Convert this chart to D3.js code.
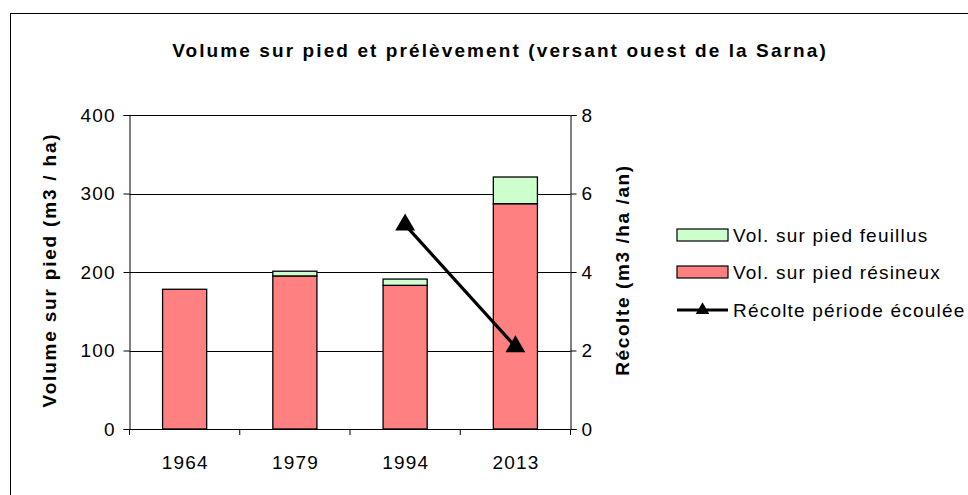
<!DOCTYPE html>
<html><head><meta charset="utf-8">
<script src="https://cdn.jsdelivr.net/npm/d3@7"></script>
<style>body{margin:0;background:#fff}svg{display:block;font-family:"Liberation Sans",Arial,sans-serif}</style>
</head><body>
<svg id="c" width="968" height="495"></svg>
<script>
const categories = ["1964", "1979", "1994", "2013"];
const resineux = [178, 195, 183, 287];
const feuillus = [0, 6, 8, 34];
const recolte = [null, null, 5.2, 2.1];
const leftTicks = [0, 100, 200, 300, 400];
const rightTicks = [0, 2, 4, 6, 8];
const seriesNames = ["Vol. sur pied feuillus", "Vol. sur pied résineux", "Récolte période écoulée"];

const FONT = '"Liberation Sans",Arial,sans-serif';
const FS = "19px", LS = "1.2px";

const svg = d3.select("#c");
svg.append("rect").attr("x", 0).attr("y", 0).attr("width", 968).attr("height", 495).attr("fill", "#fff");
svg.append("rect").attr("x", 10.5).attr("y", 13.5).attr("width", 1000).attr("height", 600)
  .attr("fill", "none").attr("stroke", "#000").attr("stroke-width", 1);

const L = 129.5, R = 570.5, T = 115, B = 429;
const x = d3.scaleBand().domain(categories).range([L, R]).paddingInner(0.6).paddingOuter(0.3);
const xb = d3.scaleBand().domain(categories).range([L, R]);
const y = d3.scaleLinear().domain([0, 400]).range([B, T]);
const y2 = d3.scaleLinear().domain([0, 8]).range([B, T]);

// gridlines
svg.append("g").selectAll("line").data(leftTicks.slice(1)).join("line")
  .attr("x1", L).attr("x2", R).attr("y1", d => Math.round(y(d)) + 0.5).attr("y2", d => Math.round(y(d)) + 0.5)
  .attr("stroke", "#000").attr("stroke-width", 1);

// bars
const data = categories.map((c, i) => ({c, r: resineux[i], f: feuillus[i]}));
const g = svg.append("g").attr("stroke", "#000").attr("stroke-width", 1.3);
g.selectAll(".r").data(data).join("rect")
  .attr("x", d => x(d.c)).attr("width", x.bandwidth())
  .attr("y", d => y(d.r)).attr("height", d => y(0) - y(d.r)).attr("fill", "#FF8080");
g.selectAll(".f").data(data.filter(d => d.f > 0)).join("rect")
  .attr("x", d => x(d.c)).attr("width", x.bandwidth())
  .attr("y", d => y(d.r + d.f)).attr("height", d => y(d.r) - y(d.r + d.f)).attr("fill", "#CCFFCC");

// axes
const axL = svg.append("g").attr("transform", `translate(${L},0)`)
  .call(d3.axisLeft(y).tickValues(leftTicks).tickSize(6).tickPadding(7.8));
const axR = svg.append("g").attr("transform", `translate(${R},0)`)
  .call(d3.axisRight(y2).tickValues(rightTicks).tickSize(6).tickPadding(5));
const axB = svg.append("g").attr("transform", `translate(0,${B})`)
  .call(d3.axisBottom(xb).tickSize(0).tickPadding(26.5));
[axL, axR, axB].forEach(a => {
  a.selectAll("text").attr("font-size", FS).attr("letter-spacing", LS).attr("fill", "#000").attr("font-family", FONT);
  a.selectAll("line,path").attr("stroke", "#000");
});
axB.selectAll("text").attr("dx", "0.6px");
axB.select(".domain").attr("d", `M${L},0.5H${R}`);
// bottom category boundary ticks
svg.append("g").selectAll("line").data(categories.concat(["end"])).join("line")
  .attr("x1", (d, i) => L + i * xb.step()).attr("x2", (d, i) => L + i * xb.step())
  .attr("y1", B).attr("y2", B + 6).attr("stroke", "#000");

// line series
const pts = categories.map((c, i) => ({c, v: recolte[i]})).filter(d => d.v != null);
const cx = d => x(d.c) + x.bandwidth() / 2;
svg.append("path").datum(pts)
  .attr("d", d3.line().x(cx).y(d => y2(d.v)))
  .attr("fill", "none").attr("stroke", "#000").attr("stroke-width", 3.2);
const tri = d3.symbol().type(d3.symbolTriangle).size(170);
svg.append("g").selectAll("path").data(pts).join("path")
  .attr("transform", d => `translate(${cx(d)},${y2(d.v)})`).attr("d", tri()).attr("fill", "#000");

// title
svg.append("text").attr("x", 500).attr("y", 57).attr("text-anchor", "middle")
  .attr("font-size", "19px").attr("font-weight", "bold").attr("letter-spacing", "2.1px")
  .text("Volume sur pied et prélèvement (versant ouest de la Sarna)");

// axis titles
svg.append("text").attr("transform", `translate(56,${(T + B) / 2 - 2}) rotate(-90)`).attr("text-anchor", "middle")
  .attr("font-size", "19px").attr("font-weight", "bold").attr("letter-spacing", "1.8px").text("Volume sur pied (m3 / ha)");
svg.append("text").attr("transform", `translate(629,${(T + B) / 2 - 2}) rotate(-90)`).attr("text-anchor", "middle")
  .attr("font-size", "19px").attr("font-weight", "bold").attr("letter-spacing", "1.6px").text("Récolte (m3 /ha /an)");

// legend
const lg = svg.append("g").attr("transform", "translate(677,0)");
const rows = [235, 272, 310];
const fills = ["#CCFFCC", "#FF8080"];
fills.forEach((f, i) => {
  lg.append("rect").attr("x", 0).attr("y", rows[i] - 6).attr("width", 51).attr("height", 12)
    .attr("fill", f).attr("stroke", "#000").attr("stroke-width", 1.2);
});
lg.append("line").attr("x1", 0).attr("x2", 51).attr("y1", rows[2]).attr("y2", rows[2]).attr("stroke", "#000").attr("stroke-width", 3.2);
lg.append("path").attr("transform", `translate(25.5,${rows[2]})`).attr("d", d3.symbol().type(d3.symbolTriangle).size(80)()).attr("fill", "#000");
seriesNames.forEach((n, i) => {
  lg.append("text").attr("x", 56).attr("y", rows[i]).attr("dy", "0.35em")
    .attr("font-size", FS).attr("letter-spacing", LS).text(n);
});
</script>
</body></html>
